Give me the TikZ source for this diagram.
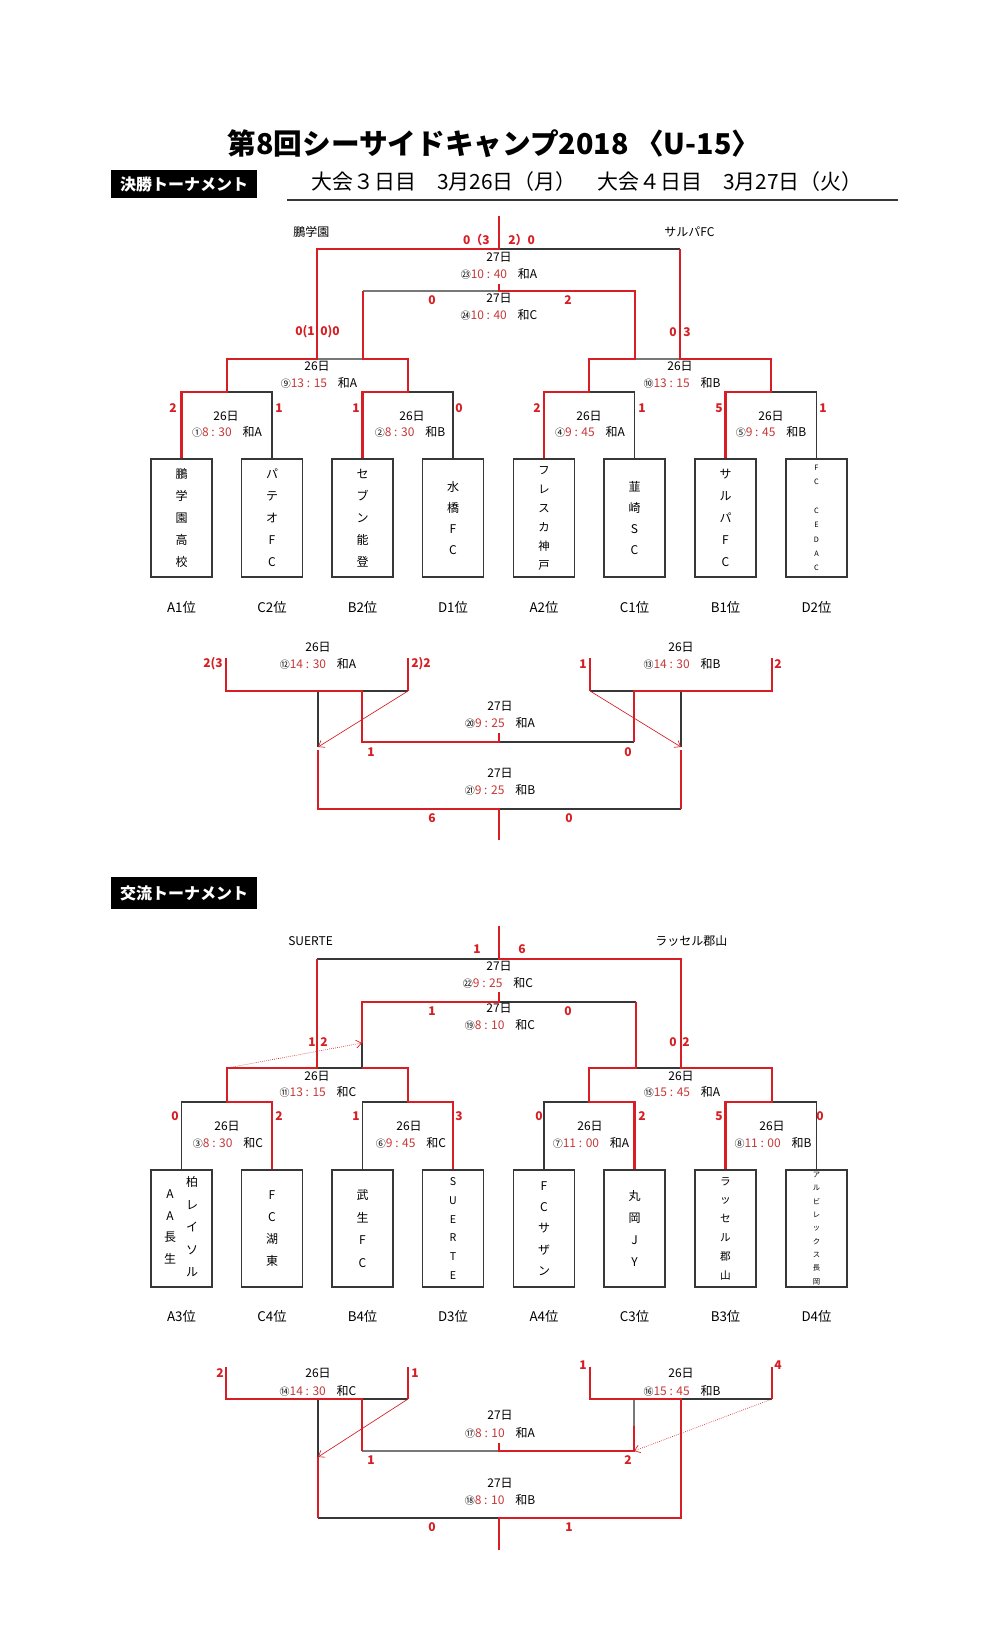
\documentclass[tikz,border=0pt]{standalone}
\usepackage{fontspec}
\setmainfont{Noto Sans CJK JP}
\usetikzlibrary{arrows.meta}
\definecolor{tred}{RGB}{214,30,36}
\definecolor{ttime}{RGB}{198,56,56}
\definecolor{dkc}{RGB}{55,55,55}
\definecolor{gyc}{RGB}{120,120,120}
\newcommand{\mt}[3]{{\fontsize{7.5}{8}\selectfont #1}{\color{ttime}#2}\hspace{0.9em}#3}
\begin{document}
\begin{tikzpicture}[x=0.75pt,y=-0.75pt,
  rl/.style={draw=tred,line width=2pt},
  dl/.style={draw=dkc,line width=1.1pt},
  gl/.style={draw=gyc,line width=0.8pt},
  al/.style={draw=tred,line width=0.5pt,-{Straight Barb[length=4pt,width=6pt]}},
  adl/.style={al,densely dotted},
  sm/.style={font=\fontsize{9}{10}\selectfont,inner sep=0pt},
  scr/.style={font=\fontsize{9}{10}\selectfont\bfseries,text=tred,inner sep=0pt},
  tbox/.style={draw=dkc,line width=1.2pt,minimum width=45.75pt,minimum height=88.5pt,inner sep=0pt,align=center,font=\fontsize{9}{16.5}\selectfont},
  bbox/.style={tbox,minimum height=87.75pt},
  vt/.style={inner sep=0pt,align=center},
  plc/.style={font=\fontsize{10}{11}\selectfont,inner sep=0pt},
  hdr/.style={fill=black,text=white,font=\fontsize{12}{13}\selectfont\bfseries,minimum width=109.5pt,minimum height=21pt,inner sep=0pt}
]
\fill[white] (0,0) rectangle (989,1630);
\useasboundingbox (0,0) rectangle (989,1630);

% ---------- header ----------
\node[font=\fontsize{21.5}{23}\selectfont\bfseries] (title) at (494,144) {第8回シーサイドキャンプ2018 〈U-15〉};
\node[hdr] (h1) at (184,184) {決勝トーナメント};
\node[font=\fontsize{15.7}{17}\selectfont] (sub) at (587,182) {大会３日目　3月26日（月）　大会４日目　3月27日（火）};
\coordinate (ul1) at (287,200); \coordinate (ul2) at (898,200);
\draw[draw=dkc,line width=1.1pt] (ul1) -- (ul2);

% ---------- top boxes ----------
\node[tbox] (t1) at (181.5,518) {鵬\\学\\園\\高\\校};
\node[tbox] (t2) at (272,518) {パ\\テ\\オ\\F\\C};
\node[tbox] (t3) at (362.5,518) {セ\\ブ\\ン\\能\\登};
\node[tbox,font=\fontsize{9}{15.75}\selectfont] (t4) at (453,518) {水\\橋\\F\\C};
\node[tbox,font=\fontsize{8.5}{14.25}\selectfont] (t5) at (544,518) {フ\\レ\\ス\\カ\\神\\戸};
\node[tbox,font=\fontsize{9}{15.75}\selectfont] (t6) at (634.5,518) {韮\\崎\\S\\C};
\node[tbox] (t7) at (725.5,518) {サ\\ル\\パ\\F\\C};
\node[tbox,font=\fontsize{5.5}{10.7}\selectfont] (t8) at (816.5,518) {F\\C\\\mbox{}\\C\\E\\D\\A\\C};

% top bracket lines: dark/gray first
\draw[dl] (t2.north) -- (272,392) -- (227,392);
\draw[dl] (t4.north) -- (453,392) -- (408,392);
\draw[dl] (t6.north) -- (634.5,392) -- (589,392);
\draw[dl] (t8.north) -- (816.5,392) -- (771,392);
\draw[gl] (317,359) -- (363,359);
\draw[gl] (635,359) -- (680,359);
\draw[gl] (363,291) -- (499,291);
\draw[dl] (499,249) -- (680,249);
% red paths
\draw[rl] (t1.north) -- (181.5,392) -- (227,392) -- (227,359) -- (317,359) -- (317,249) -- (499,249) -- (499,216);
\draw[rl] (t3.north) -- (362.5,392) -- (408,392) -- (408,359) -- (363,359) -- (363,291);
\draw[rl] (t5.north) -- (544,392) -- (589,392) -- (589,359) -- (635,359) -- (635,291) -- (499,291) -- (499,284);
\draw[rl] (t7.north) -- (725.5,392) -- (771,392) -- (771,359) -- (680,359) -- (680,249);

% top texts
\node[sm,anchor=west] (lt) at (293,232) {鵬学園};
\node[sm,anchor=west] (rt) at (664,232) {サルパFC};
\node[scr,anchor=east] (s23l) at (490,240) {0（3};
\node[scr,anchor=west] (s23r) at (508,240) {2）0};
\node[sm] (d23) at (499,257) {27日};
\node[sm] (m23) at (499,274) {\mt{㉓}{10 : 40}{和A}};
\node[sm] (d24) at (499,298) {27日};
\node[sm] (m24) at (499,315) {\mt{㉔}{10 : 40}{和C}};
\node[scr] (s24l) at (432,300) {0};
\node[scr] (s24r) at (568,300) {2};
\node[scr,anchor=east] (s9l) at (315,332) {0(1};
\node[scr,anchor=west] (s9r) at (320,332) {0)0};
\node[scr,anchor=east] (s10l) at (677,332) {0};
\node[scr,anchor=west] (s10r) at (683,332) {3};
\node[sm] (d9) at (317,366) {26日};
\node[sm] (m9) at (319,383) {\mt{⑨}{13 : 15}{和A}};
\node[sm] (d10) at (680,366) {26日};
\node[sm] (m10) at (682,383) {\mt{⑩}{13 : 15}{和B}};
\node[sm] (d1) at (226,416) {26日};
\node[sm] (m1) at (227,432) {\mt{①}{8 : 30}{和A}};
\node[sm] (d2) at (412,416) {26日};
\node[sm] (m2) at (410,432) {\mt{②}{8 : 30}{和B}};
\node[sm] (d4) at (589,416) {26日};
\node[sm] (m4) at (590,432) {\mt{④}{9 : 45}{和A}};
\node[sm] (d5) at (771,416) {26日};
\node[sm] (m5) at (771,432) {\mt{⑤}{9 : 45}{和B}};
\foreach \x/\s [count=\i] in {173/2,279/1,356/1,459/0,537/2,642/1,719/5,823/1}
  \node[scr] (sa\i) at (\x,408) {\s};
\foreach \x/\s [count=\i] in {181.5/A1位,272/C2位,362.5/B2位,453/D1位,544/A2位,634.5/C1位,725.5/B1位,816.5/D2位}
  \node[plc] (pa\i) at (\x,607) {\s};

% placement top
\draw[dl] (362,691) -- (408,691);
\draw[dl] (318,691) -- (318,747);
\draw[dl] (590,691) -- (634,691);
\draw[dl] (681,691) -- (681,747);
\draw[dl] (499,742) -- (634,742);
\draw[dl] (499,809) -- (681,809);
\draw[rl] (226,658) -- (226,691) -- (362,691) -- (362,742) -- (499,742) -- (499,733);
\draw[rl] (408,658) -- (408,691);
\draw[rl] (590,658) -- (590,691);
\draw[rl] (634,742) -- (634,691) -- (772,691) -- (772,658);
\draw[rl] (318,750) -- (318,809) -- (499,809) -- (499,840);
\draw[rl] (681,750) -- (681,809);
\coordinate (a12s) at (408,691); \coordinate (a12e) at (318,747);
\coordinate (a13s) at (590,691); \coordinate (a13e) at (681,747);
\draw[al] (a12s) -- (a12e);
\draw[al] (a13s) -- (a13e);
\node[sm] (d12) at (318,647) {26日};
\node[sm] (m12) at (318,664) {\mt{⑫}{14 : 30}{和A}};
\node[scr,anchor=east] (s12l) at (223,664) {2(3};
\node[scr,anchor=west] (s12r) at (411,664) {2)2};
\node[sm] (d13) at (681,647) {26日};
\node[sm] (m13) at (682,664) {\mt{⑬}{14 : 30}{和B}};
\node[scr] (s13l) at (583,664) {1};
\node[scr] (s13r) at (778,664) {2};
\node[sm] (d20) at (500,706) {27日};
\node[sm] (m20) at (500,723) {\mt{⑳}{9 : 25}{和A}};
\node[scr] (s20l) at (371,752) {1};
\node[scr] (s20r) at (628,752) {0};
\node[sm] (d21) at (500,773) {27日};
\node[sm] (m21) at (500,790) {\mt{㉑}{9 : 25}{和B}};
\node[scr] (s21l) at (432,818) {6};
\node[scr] (s21r) at (569,818) {0};

% ---------- second tournament ----------
\node[hdr,minimum height=24pt] (h2) at (184,893) {交流トーナメント};

\node[bbox] (b1) at (181.5,1228.5) {};
\node[vt,font=\fontsize{9}{16.3}\selectfont] (b1a) at (170,1227) {A\\A\\長\\生};
\node[vt,font=\fontsize{9}{16.9}\selectfont] (b1b) at (192,1227) {柏\\レ\\イ\\ソ\\ル};
\node[bbox,font=\fontsize{9}{16.7}\selectfont] (b2) at (272,1228.5) {F\\C\\湖\\東};
\node[bbox,font=\fontsize{9}{17}\selectfont] (b3) at (362.5,1228.5) {武\\生\\F\\C};
\node[bbox,font=\fontsize{8}{14.1}\selectfont] (b4) at (453,1228.5) {S\\U\\E\\R\\T\\E};
\node[bbox,font=\fontsize{9}{16}\selectfont] (b5) at (544,1228.5) {F\\C\\サ\\ザ\\ン};
\node[bbox,font=\fontsize{9}{16.5}\selectfont] (b6) at (634.5,1228.5) {丸\\岡\\J\\Y};
\node[bbox,font=\fontsize{8}{14.1}\selectfont] (b7) at (725.5,1228.5) {ラ\\ッ\\セ\\ル\\郡\\山};
\node[bbox,font=\fontsize{5.5}{10}\selectfont] (b8) at (816.5,1228.5) {ア\\ル\\ビ\\レ\\ッ\\ク\\ス\\長\\岡};

% dark/gray
\draw[dl] (b1.north) -- (181.5,1102) -- (227,1102);
\draw[dl] (b3.north) -- (362.5,1102) -- (408,1102);
\draw[dl] (b5.north) -- (544,1102) -- (589,1102);
\draw[dl] (b8.north) -- (816.5,1102) -- (772,1102);
\draw[dl] (317,1068) -- (362,1068) -- (362,1043);
\draw[dl] (636,1068) -- (681,1068);
\draw[dl] (499,1002) -- (636,1002);
\draw[dl] (317,959) -- (499,959);
% red
\draw[rl] (b2.north) -- (272,1102) -- (227,1102) -- (227,1068) -- (317,1068) -- (317,959);
\draw[rl] (b4.north) -- (453,1102) -- (408,1102) -- (408,1068) -- (362,1068);
\draw[rl] (362,1043) -- (362,1002) -- (499,1002) -- (499,992);
\draw[rl] (b6.north) -- (634.5,1102) -- (589,1102) -- (589,1068) -- (636,1068) -- (636,1002);
\draw[rl] (b7.north) -- (725.5,1102) -- (772,1102) -- (772,1068) -- (681,1068) -- (681,959) -- (499,959) -- (499,926);
\coordinate (a11s) at (227,1068); \coordinate (a11e) at (362,1043);
\draw[adl] (a11s) -- (a11e);

\node[sm,anchor=west] (lt2) at (288,941) {SUERTE};
\node[sm,anchor=west] (rt2) at (655,941) {ラッセル郡山};
\node[scr] (s22l) at (477,949) {1};
\node[scr] (s22r) at (522,949) {6};
\node[sm] (d22) at (499,966) {27日};
\node[sm] (m22) at (498,983) {\mt{㉒}{9 : 25}{和C}};
\node[sm] (d19) at (499,1008) {27日};
\node[sm] (m19) at (500,1025) {\mt{⑲}{8 : 10}{和C}};
\node[scr] (s19l) at (432,1011) {1};
\node[scr] (s19r) at (568,1011) {0};
\node[scr] (s11l) at (312,1042) {1};
\node[scr] (s11r) at (324,1042) {2};
\node[scr] (s15l) at (673,1042) {0};
\node[scr] (s15r) at (686,1042) {2};
\node[sm] (d11) at (317,1076) {26日};
\node[sm] (m11) at (318,1092) {\mt{⑪}{13 : 15}{和C}};
\node[sm] (d15) at (681,1076) {26日};
\node[sm] (m15) at (682,1092) {\mt{⑮}{15 : 45}{和A}};
\node[sm] (d3) at (227,1126) {26日};
\node[sm] (m3) at (228,1143) {\mt{③}{8 : 30}{和C}};
\node[sm] (d6) at (409,1126) {26日};
\node[sm] (m6) at (411,1143) {\mt{⑥}{9 : 45}{和C}};
\node[sm] (d7) at (590,1126) {26日};
\node[sm] (m7) at (591,1143) {\mt{⑦}{11 : 00}{和A}};
\node[sm] (d8) at (772,1126) {26日};
\node[sm] (m8) at (773,1143) {\mt{⑧}{11 : 00}{和B}};
\foreach \x/\s [count=\i] in {175/0,279/2,356/1,459/3,539/0,642/2,719/5,820/0}
  \node[scr] (sb\i) at (\x,1116) {\s};
\foreach \x/\s [count=\i] in {181.5/A3位,272/C4位,362.5/B4位,453/D3位,544/A4位,634.5/C3位,725.5/B3位,816.5/D4位}
  \node[plc] (pb\i) at (\x,1316) {\s};

% placement bottom
\draw[dl] (362,1399) -- (408,1399);
\draw[dl] (318,1399) -- (318,1457);
\draw[gl] (362,1451) -- (499,1451);
\draw[gl] (634,1399) -- (634,1426);
\draw[dl] (681,1399) -- (772,1399);
\draw[dl] (318,1518) -- (499,1518);
\draw[rl] (226,1367) -- (226,1399) -- (362,1399) -- (362,1451);
\draw[rl] (408,1367) -- (408,1399);
\draw[rl] (499,1443) -- (499,1451) -- (634,1451) -- (634,1426);
\draw[rl] (590,1367) -- (590,1399) -- (681,1399) -- (681,1518) -- (499,1518) -- (499,1550);
\draw[rl] (772,1367) -- (772,1399);
\draw[rl] (318,1457) -- (318,1518);
\coordinate (a14s) at (408,1399); \coordinate (a14e) at (318,1457);
\coordinate (a16s) at (772,1399); \coordinate (a16e) at (634,1451);
\draw[al] (a14s) -- (a14e);
\draw[adl] (a16s) -- (a16e);
\node[sm] (d14) at (318,1373) {26日};
\node[sm] (m14) at (318,1391) {\mt{⑭}{14 : 30}{和C}};
\node[scr] (s14l) at (220,1373) {2};
\node[scr] (s14r) at (415,1373) {1};
\node[sm] (d16) at (681,1373) {26日};
\node[sm] (m16) at (682,1391) {\mt{⑯}{15 : 45}{和B}};
\node[scr] (s16l) at (583,1365) {1};
\node[scr] (s16r) at (778,1365) {4};
\node[sm] (d17) at (500,1415) {27日};
\node[sm] (m17) at (500,1433) {\mt{⑰}{8 : 10}{和A}};
\node[scr] (s17l) at (371,1460) {1};
\node[scr] (s17r) at (628,1460) {2};
\node[sm] (d18) at (500,1483) {27日};
\node[sm] (m18) at (500,1500) {\mt{⑱}{8 : 10}{和B}};
\node[scr] (s18l) at (432,1527) {0};
\node[scr] (s18r) at (569,1527) {1};
\end{tikzpicture}
\end{document}
